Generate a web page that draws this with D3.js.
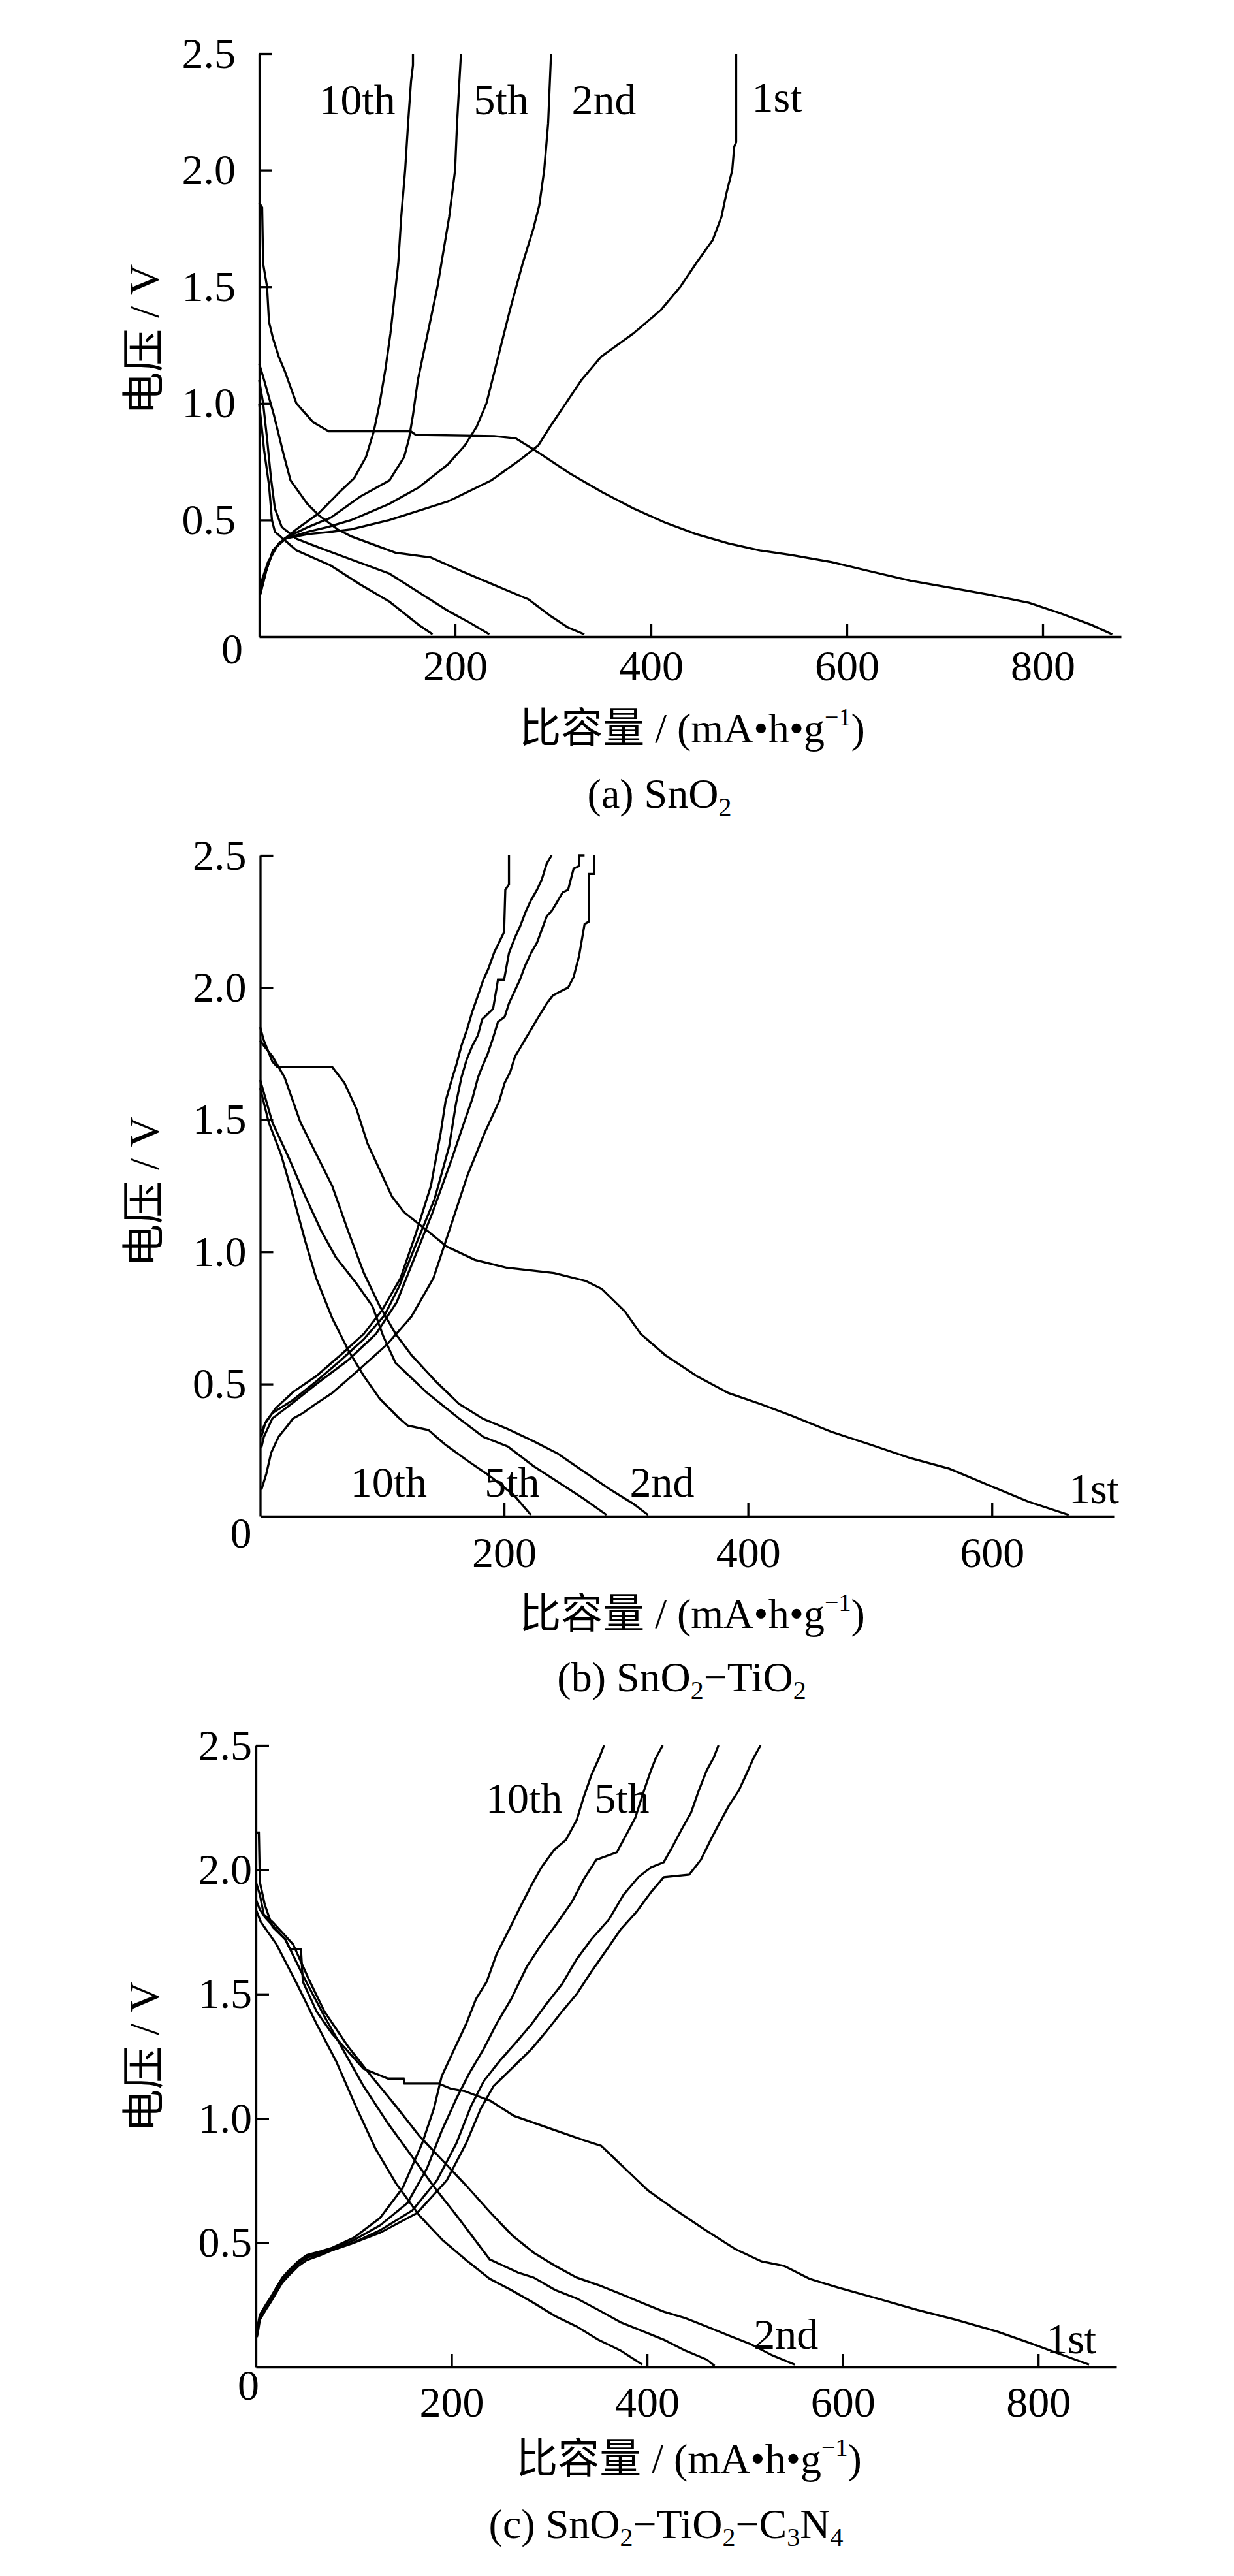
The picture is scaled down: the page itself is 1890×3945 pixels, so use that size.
<!DOCTYPE html>
<html>
<head>
<meta charset="utf-8">
<script src="https://cdn.jsdelivr.net/npm/d3@7"></script>
<style>
  body { margin: 0; background: #fff; }
  svg text { font-family: "Liberation Serif", "Noto Sans CJK SC", serif; fill: #000; }
</style>
</head>
<body>
<script>
// ---- data: [capacity mA·h/g, voltage V] ----
const yTicks = [0.5, 1.0, 1.5, 2.0, 2.5];
const xTicksA = [200, 400, 600, 800];
const xTicksB = [200, 400, 600];
const xTicksC = [200, 400, 600, 800];

// (a) SnO2
const a_dis1 = [[0,1.86],[3,1.84],[4,1.6],[8,1.5],[10,1.35],[14,1.28],[20,1.2],[26,1.14],[38,1.0],[55,0.92],[71,0.88],[155,0.88],[160,0.865],[240,0.86],[262,0.85],[285,0.79],[317,0.70],[350,0.62],[382,0.55],[414,0.49],[446,0.44],[479,0.40],[511,0.37],[543,0.35],[584,0.32],[624,0.28],[665,0.24],[705,0.21],[745,0.18],[786,0.145],[818,0.10],[850,0.05],[871,0.01]];
const a_dis2 = [[0,1.17],[5,1.1],[15,0.95],[25,0.78],[32,0.67],[49,0.57],[61,0.52],[80,0.46],[94,0.43],[139,0.36],[175,0.34],[207,0.28],[252,0.2],[275,0.16],[297,0.09],[315,0.04],[332,0.01]];
const a_dis5 = [[0,1.1],[4,1.0],[8,0.85],[12,0.68],[16,0.55],[23,0.47],[38,0.42],[53,0.395],[88,0.34],[133,0.27],[163,0.19],[193,0.11],[215,0.06],[235,0.01]];
const a_dis10 = [[0,1.0],[5,0.8],[10,0.65],[13,0.5],[16,0.45],[38,0.37],[73,0.305],[103,0.224],[133,0.15],[163,0.05],[177,0.01]];
const a_chg1 = [[1,0.18],[7,0.28],[14,0.37],[26,0.42],[50,0.44],[75,0.45],[94,0.46],[133,0.50],[193,0.58],[237,0.67],[267,0.76],[285,0.82],[297,0.9],[313,1.0],[329,1.1],[349,1.2],[382,1.3],[410,1.4],[430,1.5],[446,1.6],[463,1.7],[472,1.8],[477,1.9],[483,2.0],[485,2.1],[487,2.12],[487,2.5]];
const a_chg2 = [[1,0.18],[7,0.28],[14,0.37],[26,0.42],[50,0.45],[70,0.47],[94,0.50],[133,0.57],[163,0.64],[193,0.74],[210,0.82],[222,0.9],[232,1.0],[244,1.2],[256,1.4],[269,1.6],[280,1.75],[286,1.85],[291,2.0],[295,2.2],[298,2.5]];
const a_chg5 = [[1,0.2],[8,0.3],[16,0.38],[30,0.43],[50,0.47],[73,0.51],[103,0.60],[133,0.67],[148,0.77],[153,0.85],[157,0.95],[162,1.1],[172,1.3],[182,1.5],[194,1.8],[200,2.0],[202,2.2],[206,2.5]];
const a_chg10 = [[1,0.22],[9,0.32],[20,0.4],[38,0.46],[61,0.53],[82,0.62],[97,0.68],[109,0.77],[117,0.88],[123,1.0],[129,1.15],[134,1.3],[138,1.45],[142,1.6],[145,1.8],[149,2.0],[152,2.2],[155,2.38],[157,2.45],[157,2.5]];

// (b) SnO2-TiO2
const b_dis1 = [[0,1.85],[3,1.80],[10,1.72],[14,1.70],[59,1.70],[69,1.64],[79,1.54],[88,1.41],[98,1.31],[108,1.21],[118,1.15],[137,1.08],[153,1.02],[176,0.97],[202,0.94],[241,0.92],[267,0.89],[280,0.86],[299,0.775],[312,0.69],[332,0.61],[358,0.53],[384,0.466],[410,0.425],[436,0.38],[468,0.32],[501,0.27],[533,0.22],[565,0.18],[598,0.116],[630,0.055],[663,0.005]];
const b_dis2 = [[0,1.80],[3,1.78],[10,1.74],[20,1.66],[33,1.49],[46,1.37],[59,1.25],[72,1.08],[85,0.92],[98,0.795],[111,0.69],[124,0.61],[144,0.51],[163,0.425],[183,0.368],[203,0.33],[224,0.284],[244,0.237],[265,0.17],[286,0.104],[306,0.047],[318,0.005]];
const b_dis5 = [[0,1.65],[10,1.49],[24,1.35],[37,1.21],[50,1.08],[62,0.98],[79,0.88],[92,0.795],[101,0.68],[111,0.58],[137,0.466],[163,0.37],[183,0.30],[203,0.264],[224,0.19],[244,0.13],[265,0.067],[284,0.005]];
const b_dis10 = [[0,1.62],[7,1.49],[17,1.37],[27,1.21],[37,1.04],[46,0.9],[59,0.75],[72,0.63],[85,0.53],[98,0.445],[113,0.375],[121,0.343],[138,0.326],[152,0.27],[170,0.21],[188,0.153],[208,0.08],[222,0.005]];
const b_chg1 = [[1,0.10],[5,0.16],[9,0.24],[15,0.30],[22,0.34],[27,0.37],[35,0.39],[44,0.42],[59,0.466],[80,0.55],[104,0.65],[124,0.755],[142,0.9],[155,1.08],[170,1.29],[184,1.45],[196,1.57],[200.5,1.64],[205,1.68],[209,1.74],[213,1.77],[218,1.81],[222,1.84],[227,1.88],[231,1.91],[235,1.94],[240,1.97],[248,1.99],[252.5,2.0],[257,2.04],[261.5,2.12],[266,2.24],[269.6,2.25],[269.6,2.43],[274,2.43],[274,2.5]];
const b_chg2 = [[1,0.26],[3,0.30],[10,0.37],[27,0.43],[46,0.5],[72,0.59],[95,0.69],[112,0.81],[125,0.96],[141,1.145],[157,1.35],[168,1.5],[174,1.58],[178.6,1.66],[182,1.70],[186.6,1.75],[191,1.81],[195,1.87],[200.5,1.89],[204,1.94],[209,1.99],[213,2.03],[217,2.08],[222,2.13],[227,2.17],[231,2.22],[235,2.27],[239,2.29],[243,2.32],[248,2.36],[252.5,2.37],[257,2.45],[261.5,2.46],[261.5,2.5],[266,2.5]];
const b_chg5 = [[1,0.30],[4,0.35],[10,0.39],[27,0.44],[46,0.51],[66,0.59],[85,0.67],[102,0.76],[114,0.87],[127,1.02],[143,1.2],[155,1.4],[160.5,1.56],[165,1.66],[169.5,1.73],[174,1.78],[178.6,1.82],[182,1.88],[191,1.92],[195,2.03],[200,2.03],[204,2.13],[209,2.19],[213,2.23],[218,2.29],[222,2.33],[227,2.37],[231,2.41],[235,2.47],[239,2.5]];
const b_chg10 = [[1,0.32],[5,0.36],[13,0.41],[27,0.47],[46,0.53],[66,0.61],[85,0.69],[100,0.78],[115,0.9],[127,1.06],[140,1.25],[148,1.45],[152,1.57],[157,1.65],[161,1.71],[165,1.78],[169.5,1.84],[174,1.91],[178.6,1.97],[183,2.03],[187,2.07],[192,2.134],[200,2.21],[201,2.37],[204,2.39],[204,2.5]];

// (c) SnO2-TiO2-C3N4
const c_dis1 = [[0,2.15],[3,2.15],[4,1.95],[9,1.86],[17,1.77],[30,1.72],[35,1.68],[46,1.68],[48,1.55],[62,1.43],[78,1.34],[94,1.27],[110,1.2],[135,1.16],[151,1.16],[152,1.14],[187,1.14],[199,1.12],[213,1.11],[240,1.07],[264,1.01],[304,0.955],[337,0.91],[353,0.89],[377,0.80],[401,0.71],[426,0.64],[458,0.555],[490,0.475],[517,0.425],[540,0.407],[566,0.355],[595,0.32],[636,0.275],[676,0.23],[716,0.19],[757,0.144],[789,0.10],[821,0.054],[852,0.01]];
const c_dis2 = [[0,1.95],[4,1.9],[8,1.82],[17,1.79],[38,1.70],[54,1.56],[70,1.43],[94,1.29],[118,1.17],[143,1.05],[167,0.93],[191,0.83],[215,0.73],[240,0.62],[262,0.53],[284,0.46],[306,0.407],[328,0.36],[350,0.33],[373,0.294],[395,0.258],[417,0.223],[439,0.197],[461,0.163],[484,0.126],[506,0.092],[528,0.047],[551,0.01]];
const c_dis5 = [[0,1.88],[4,1.84],[9,1.81],[30,1.72],[50,1.56],[70,1.41],[90,1.27],[110,1.13],[135,0.98],[159,0.85],[183,0.72],[207,0.6],[239,0.433],[268,0.38],[284,0.36],[306,0.31],[328,0.276],[350,0.23],[373,0.18],[395,0.145],[417,0.11],[439,0.066],[461,0.03],[469,0.005]];
const c_dis10 = [[0,1.84],[5,1.79],[21,1.70],[42,1.54],[62,1.38],[82,1.23],[102,1.05],[122,0.88],[143,0.74],[167,0.61],[191,0.51],[215,0.43],[239,0.355],[261,0.31],[284,0.258],[306,0.205],[328,0.163],[350,0.11],[373,0.066],[395,0.01]];
const c_chg1 = [[1,0.12],[2,0.14],[4,0.19],[10,0.23],[15,0.26],[21,0.30],[27,0.34],[34,0.37],[43,0.405],[52,0.43],[66,0.45],[78,0.47],[100,0.50],[127,0.54],[165,0.62],[195,0.75],[215,0.9],[230,1.04],[243,1.13],[264,1.21],[282,1.28],[297,1.35],[313,1.43],[328,1.50],[343,1.59],[359,1.68],[373,1.76],[389,1.83],[404,1.91],[417,1.97],[443,1.98],[455,2.04],[465,2.12],[473,2.18],[484,2.26],[494,2.32],[501,2.38],[509,2.45],[516,2.5]];
const c_chg2 = [[1,0.13],[2,0.15],[4,0.2],[10,0.24],[15,0.27],[21,0.31],[27,0.35],[34,0.38],[43,0.415],[52,0.44],[66,0.455],[78,0.47],[100,0.50],[127,0.55],[160,0.63],[185,0.75],[205,0.9],[220,1.05],[233,1.15],[249,1.23],[267,1.31],[282,1.38],[297,1.46],[313,1.54],[328,1.64],[343,1.72],[361,1.80],[376,1.90],[391,1.97],[404,2.01],[417,2.03],[427,2.10],[435,2.16],[445,2.23],[453,2.32],[461,2.40],[468,2.45],[473,2.5]];
const c_chg5 = [[1,0.13],[2,0.16],[4,0.2],[10,0.24],[15,0.27],[21,0.32],[27,0.355],[34,0.385],[43,0.42],[52,0.445],[66,0.46],[78,0.475],[100,0.51],[127,0.57],[155,0.66],[175,0.8],[190,0.95],[205,1.08],[218,1.18],[233,1.28],[246,1.38],[261,1.48],[277,1.61],[292,1.70],[307,1.78],[323,1.87],[335,1.96],[348,2.04],[369,2.07],[380,2.15],[388,2.21],[397,2.32],[404,2.40],[409,2.45],[416,2.5]];
const c_chg10 = [[1,0.14],[2,0.17],[4,0.21],[10,0.25],[15,0.28],[21,0.32],[27,0.36],[34,0.39],[43,0.425],[52,0.45],[66,0.465],[78,0.48],[100,0.52],[127,0.6],[150,0.72],[170,0.9],[182,1.04],[190,1.17],[203,1.28],[215,1.38],[225,1.48],[236,1.55],[246,1.66],[259,1.76],[269,1.84],[282,1.94],[292,2.01],[305,2.08],[317,2.12],[328,2.20],[335,2.29],[343,2.38],[351,2.45],[356,2.5]];

// cycle labels: [text, capacity, voltage]
const labelsA = [["10th",61,2.24],["5th",219,2.24],["2nd",319,2.24],["1st",503,2.25]];
const labelsB = [["10th",74,0.074],["5th",184,0.074],["2nd",303,0.074],["1st",663,0.05]];
const labelsC = [["10th",235,2.23],["5th",346,2.23],["2nd",509,0.074],["1st",808,0.055]];

// captions: [text, subscript?]
const captionA = [["(a) SnO",0],["2",1]];
const captionB = [["(b) SnO",0],["2",1],["\u2212TiO",0],["2",1]];
const captionC = [["(c) SnO",0],["2",1],["\u2212TiO",0],["2",1],["\u2212C",0],["3",1],["N",0],["4",1]];

// ---- drawing ----
const W = 1890, H = 3945;
const svg = d3.select("body").append("svg").attr("width", W).attr("height", H);
svg.append("rect").attr("width", W).attr("height", H).attr("fill", "#fff");

const panels = [
  { left: 397, right: 1717, xMax: 880, top: 82, bottom: 975, xTicks: xTicksA, yPad: 36, xPad: 20,
    zero: [-25, 41], curves: [a_dis1, a_dis2, a_dis5, a_dis10, a_chg1, a_chg2, a_chg5, a_chg10],
    labels: labelsA, title: [1060, 1137], yTitle: 520, cap: [1010, 1237], caption: captionA },
  { left: 398.5, right: 1706, xMax: 700, top: 1310, bottom: 2322, xTicks: xTicksB, yPad: 21, xPad: 31,
    zero: [-13, 48], curves: [b_dis1, b_dis2, b_dis5, b_dis10, b_chg1, b_chg2, b_chg5, b_chg10],
    labels: labelsB, title: [1060, 2493], yTitle: 1825, cap: [1044, 2590], caption: captionB },
  { left: 392, right: 1710, xMax: 880, top: 2673, bottom: 3625, xTicks: xTicksC, yPad: 6, xPad: 29,
    zero: [5, 50], curves: [c_dis1, c_dis2, c_dis5, c_dis10, c_chg1, c_chg2, c_chg5, c_chg10],
    labels: labelsC, title: [1055, 3787], yTitle: 3150, cap: [1020, 3887], caption: captionC }
];

const FS = 66;

panels.forEach(p => {
  const x = d3.scaleLinear().domain([0, p.xMax]).range([p.left, p.right]);
  const y = d3.scaleLinear().domain([0, 2.5]).range([p.bottom, p.top]);
  const g = svg.append("g");

  const line = d3.line().x(d => x(d[0])).y(d => y(d[1]));
  g.selectAll("path.curve").data(p.curves).join("path")
    .attr("class", "curve")
    .attr("d", line)
    .attr("fill", "none")
    .attr("stroke", "#000")
    .attr("stroke-width", 3.3)
    .attr("stroke-linejoin", "miter");

  const yAxis = g.append("g").attr("transform", `translate(${p.left},0)`)
    .call(d3.axisLeft(y).tickValues(yTicks).tickFormat(d3.format(".1f"))
      .tickSizeInner(-20).tickSizeOuter(0).tickPadding(p.yPad));
  const xAxis = g.append("g").attr("transform", `translate(0,${p.bottom})`)
    .call(d3.axisBottom(x).tickValues(p.xTicks).tickFormat(d3.format("d"))
      .tickSizeInner(-20).tickSizeOuter(0).tickPadding(p.xPad));
  [yAxis, xAxis].forEach(a => {
    a.attr("font-family", null).attr("font-size", null);
    a.selectAll("path, line").attr("stroke", "#000").attr("stroke-width", 3.3);
    a.selectAll("text").style("font-size", FS + "px");
  });

  // shared origin label
  g.append("text").attr("x", p.left + p.zero[0]).attr("y", p.bottom + p.zero[1])
    .attr("text-anchor", "end").style("font-size", FS + "px").text("0");

  // cycle labels
  g.selectAll("text.cyc").data(p.labels).join("text")
    .attr("class", "cyc")
    .attr("x", d => x(d[1])).attr("y", d => y(d[2]))
    .style("font-size", FS + "px").text(d => d[0]);

  // y title
  g.append("text").attr("transform", `translate(243,${p.yTitle}) rotate(-90)`)
    .attr("text-anchor", "middle").style("font-size", "66px").text("电压 / V");

  // x title
  const t = g.append("text").attr("x", p.title[0]).attr("y", p.title[1])
    .attr("text-anchor", "middle").style("font-size", "64px");
  t.append("tspan").text("比容量 / (mA\u2022h\u2022g");
  t.append("tspan").attr("dy", -26).style("font-size", "38px").text("\u22121");
  t.append("tspan").attr("dy", 26).text(")");

  // caption
  const c = g.append("text").attr("x", p.cap[0]).attr("y", p.cap[1])
    .attr("text-anchor", "middle").style("font-size", "64px");
  let shifted = false;
  p.caption.forEach(([s, sub]) => {
    const ts = c.append("tspan").text(s);
    if (sub) { ts.attr("dy", 12).style("font-size", "40px"); shifted = true; }
    else if (shifted) { ts.attr("dy", -12); shifted = false; }
  });
});
</script>
</body>
</html>
